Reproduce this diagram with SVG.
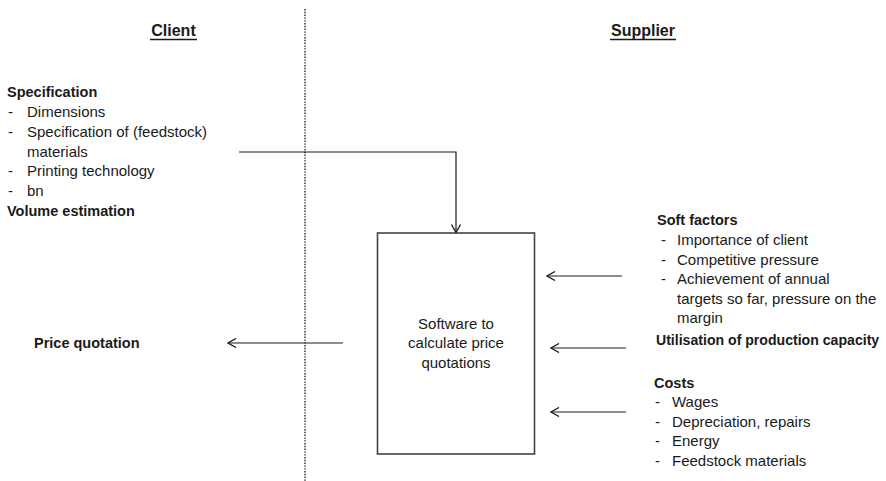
<svg xmlns="http://www.w3.org/2000/svg" width="886" height="481" viewBox="0 0 886 481">
  <style>
    .t{font-family:"Liberation Sans",Arial,sans-serif;font-size:15px;fill:#1a1a1a}
    .b{font-weight:bold;font-size:14.5px}
    .h{font-family:"Liberation Sans",Arial,sans-serif;font-size:16px;font-weight:bold;fill:#1a1a1a}
    .ul{stroke:#1a1a1a;stroke-width:1.4}
    .c{text-anchor:middle}
    .ln{stroke:#1a1a1a;stroke-width:1.2;fill:none}
    .box{fill:#fff;stroke:#444;stroke-width:1.6}
    .div{stroke:#333;stroke-width:1.5;stroke-dasharray:1.4 1.4}
  </style>
  <defs>
    <marker id="arr" viewBox="0 0 10 10" refX="9" refY="5" markerWidth="10" markerHeight="10" markerUnits="userSpaceOnUse" orient="auto">
      <path d="M1,0.5 L9,5 L1,9.5" fill="none" stroke="#1a1a1a" stroke-width="1.3"/>
    </marker>
  </defs>
  <rect width="886" height="481" fill="#fff"/>

  <!-- client / supplier divider -->
  <g id="divider">
    <line class="div" x1="305" y1="9" x2="305" y2="481"/>
  </g>

  <g id="client-header">
    <text class="h c" x="173.5" y="36">Client</text>
    <line class="ul" x1="150" y1="39.5" x2="197" y2="39.5"/>
  </g>
  <g id="supplier-header">
    <text class="h c" x="643" y="36">Supplier</text>
    <line class="ul" x1="610" y1="39.5" x2="676" y2="39.5"/>
  </g>

  <g id="specification">
    <text class="t b" x="7" y="97">Specification</text>
    <text class="t" x="8" y="117">-</text><text class="t" x="27" y="117">Dimensions</text>
    <text class="t" x="8" y="137">-</text><text class="t" x="27" y="137">Specification of (feedstock)</text>
    <text class="t" x="27" y="157">materials</text>
    <text class="t" x="8" y="176">-</text><text class="t" x="27" y="176">Printing technology</text>
    <text class="t" x="8" y="196">-</text><text class="t" x="27" y="196">bn</text>
    <text class="t b" x="7" y="216">Volume estimation</text>
  </g>

  <g id="price-quotation">
    <text class="t b" x="34" y="348">Price quotation</text>
  </g>

  <g id="software">
    <rect class="box" x="377.5" y="233" width="157" height="221"/>
    <text class="t c" x="456" y="329">Software to</text>
    <text class="t c" x="456" y="348">calculate price</text>
    <text class="t c" x="456" y="368">quotations</text>
  </g>

  <g id="soft-factors">
    <text class="t b" x="657" y="225">Soft factors</text>
    <text class="t" x="661" y="245">-</text><text class="t" x="677" y="245">Importance of client</text>
    <text class="t" x="661" y="265">-</text><text class="t" x="677" y="265">Competitive pressure</text>
    <text class="t" x="661" y="284">-</text><text class="t" x="677" y="284">Achievement of annual</text>
    <text class="t" x="677" y="304">targets so far, pressure on the</text>
    <text class="t" x="677" y="323">margin</text>
  </g>

  <g id="capacity">
    <text class="t b" x="656" y="345" style="font-size:14.1px">Utilisation of production capacity</text>
  </g>

  <g id="costs">
    <text class="t b" x="654" y="388">Costs</text>
    <text class="t" x="655" y="407">-</text><text class="t" x="672" y="407">Wages</text>
    <text class="t" x="655" y="427">-</text><text class="t" x="672" y="427">Depreciation, repairs</text>
    <text class="t" x="655" y="446">-</text><text class="t" x="672" y="446">Energy</text>
    <text class="t" x="655" y="466">-</text><text class="t" x="672" y="466">Feedstock materials</text>
  </g>

  <g id="connectors">
    <path class="ln" d="M239,152 H456 V232.5" marker-end="url(#arr)"/>
    <line class="ln" x1="343" y1="343" x2="228" y2="343" marker-end="url(#arr)"/>
    <line class="ln" x1="622" y1="276" x2="547" y2="276" marker-end="url(#arr)"/>
    <line class="ln" x1="626" y1="348" x2="551" y2="348" marker-end="url(#arr)"/>
    <line class="ln" x1="626" y1="412" x2="551" y2="412" marker-end="url(#arr)"/>
  </g>
</svg>
